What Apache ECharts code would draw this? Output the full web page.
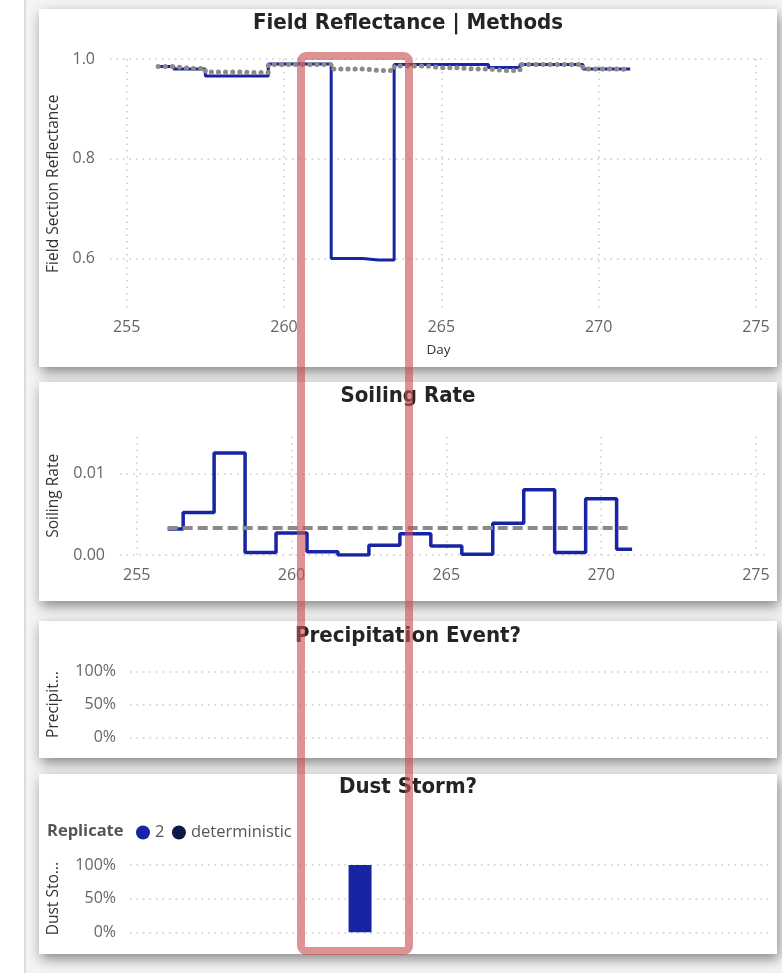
<!DOCTYPE html>
<html><head><meta charset="utf-8">
<script src="https://cdn.jsdelivr.net/npm/echarts@6/dist/echarts.min.js"></script>
<style>html,body{margin:0;padding:0;background:#fff}#c{width:782px;height:973px}</style>
</head><body><div id="c"></div><script>
// ---- data ----
const days = [256,257,258,259,260,261,262,263,264,265,266,267,268,269,270,271];
const reflRep2 = [0.985,0.980,0.966,0.966,0.990,0.990,0.600,0.597,0.989,0.989,0.989,0.983,0.989,0.989,0.980,0.980];
const reflDet  = [0.985,0.981,0.974,0.973,0.989,0.989,0.980,0.977,0.986,0.9825,0.980,0.977,0.989,0.989,0.980,0.979];
const soilRep2 = [0.0032,0.0052,0.0125,0.0003,0.0027,0.0004,0.0000,0.0012,0.0026,0.0011,0.0001,0.0039,0.0080,0.0003,0.0069,0.0007];
const soilDet  = [0.0033,0.0033,0.0033,0.0033,0.0033,0.0033,0.0033,0.0033,0.0033,0.0033,0.0033,0.0033,0.0033,0.0033,0.0033,0.0033];
const precipRep2 = [0,0,0,0,0,0,0,0,0,0,0,0,0,0,0,0];
const dustRep2 = [0,0,0,0,0,0,1,0,0,0,0,0,0,0,0,0];
const dustDet  = [0,0,0,0,0,0,0,0,0,0,0,0,0,0,0,0];
const xTicks = [255,260,265,270,275];
const legendNames = ['2','deterministic'];

// ---- styles ----
const LBL = "'Segoe UI','Open Sans','Noto Sans',sans-serif";
const TTL = "'DIN','Liberation Sans Narrow','DejaVu Sans Condensed','Roboto',sans-serif";
const BLUE = '#1724a3';
const GRAY = '#8a8a8a';
const NAVY = '#0c1b46';
const gridLine = {show:true, lineStyle:{color:'#c8c8c8', type:[1.5,5], width:1.5}};

function pairs(arr){ return days.map((d,i)=>[d, arr[i]]); }
function isMult(v, step){ return Math.abs(v/step - Math.round(v/step)) < 1e-6; }
function xFmt(v){ return (isMult(v,5) && xTicks.indexOf(Math.round(v))>=0) ? String(Math.round(v)) : ''; }

function xAxisDef(gi, min, max, show, margin, extra){
  return Object.assign({
    type:'value', gridIndex:gi, min:min, max:max, minInterval:5, maxInterval:5,
    show: show,
    axisLine:{show:false}, axisTick:{show:false},
    axisLabel:{show:show, color:'#666', fontSize:16, fontFamily:LBL, margin:margin, formatter:xFmt},
    splitLine:Object.assign({}, gridLine, {show:show, showMinLine:false, showMaxLine:false})
  }, extra||{});
}
function yNameStyle(){ return {color:'#333', fontSize:15.5, fontFamily:LBL}; }

const chart = echarts.init(document.getElementById('c'), null, {renderer:'canvas'});

const panels = [[39,9,738,358],[39,382,738,219],[39,621,738,137],[39,774,738,180]];
const graphic = [
  {type:'rect', shape:{x:25,y:0,width:757,height:973}, style:{fill:'#f4f4f4'}, z:-20},
  {type:'line', shape:{x1:25,y1:0,x2:25,y2:973}, style:{stroke:'#dcdcdc', lineWidth:2}, z:-19}
];
panels.forEach(p=>graphic.push({type:'rect', shape:{x:p[0],y:p[1],width:p[2],height:p[3]},
  style:{fill:'#fff', shadowColor:'rgba(0,0,0,0.45)', shadowBlur:12, shadowOffsetY:5, shadowOffsetX:2}, z:-10}));
[['Field Reflectance | Methods',24],['Soiling Rate',397],['Precipitation Event?',637],['Dust Storm?',788]].forEach(t=>
  graphic.push({type:'text', x:408, y:t[1], scaleX:1.05, style:{text:t[0], fill:'#252423', font:'bold 21px '+TTL, textAlign:'center', textVerticalAlign:'middle'}, z:5}));
graphic.push({type:'text', x:47, y:831, style:{text:'Replicate', fill:'#555', font:'bold 16.5px '+LBL, textAlign:'left', textVerticalAlign:'middle'}, z:5});
graphic.push({type:'rect', shape:{x:301,y:56,width:108,height:895,r:5}, style:{fill:'none', stroke:'rgba(200,80,85,0.62)', lineWidth:8}, z:100});

const option = {
  backgroundColor:'#fff',
  animation:false,
  graphic: graphic,
  legend:{data:legendNames, icon:'circle', left:136, top:824, padding:0, itemWidth:14, itemHeight:14, itemGap:7.5,
    selectedMode:false, textStyle:{fontSize:16.5, color:'#555', fontFamily:LBL}},
  grid:[
    {left:110, right:15, top:59, height:249.5},
    {left:120, right:14, top:436.7, height:118.3},
    {left:130, right:14, top:671.7, height:65.6},
    {left:130, right:14, top:865, height:67.3}
  ],
  xAxis:[
    xAxisDef(0, 254.47, 275.35, true, 11, {name:'Day', nameLocation:'middle', nameGap:35,
      nameTextStyle:{color:'#333', fontSize:13.5, fontFamily:LBL}}),
    xAxisDef(1, 254.46, 275.39, true, 12),
    xAxisDef(2, 254.5, 275.3, false, 10),
    xAxisDef(3, 254.5, 275.3, false, 10)
  ],
  yAxis:[
    {type:'value', gridIndex:0, min:0.5, max:1.0, minInterval:0.2, maxInterval:0.2,
      axisLine:{show:false}, axisTick:{show:false},
      axisLabel:{color:'#666', fontSize:16, fontFamily:LBL, margin:15,
        formatter:v => (v>0.55 && isMult(v,0.2)) ? v.toFixed(1) : ''},
      splitLine:Object.assign({}, gridLine, {showMinLine:false, showMaxLine:true}),
      name:'Field Section Reflectance', nameLocation:'middle', nameGap:48, nameTextStyle:yNameStyle()},
    {type:'value', gridIndex:1, min:0, max:0.0145, minInterval:0.01, maxInterval:0.01,
      axisLine:{show:false}, axisTick:{show:false},
      axisLabel:{color:'#666', fontSize:16, fontFamily:LBL, margin:15,
        formatter:v => isMult(v,0.01) ? v.toFixed(2) : ''},
      splitLine:Object.assign({}, gridLine, {showMinLine:true, showMaxLine:false}),
      name:'Soiling Rate', nameLocation:'middle', nameGap:58, nameTextStyle:yNameStyle()},
    {type:'value', gridIndex:2, min:0, max:1, interval:0.5,
      axisLine:{show:false}, axisTick:{show:false},
      axisLabel:{color:'#666', fontSize:16, fontFamily:LBL, margin:14, formatter:v => Math.round(v*100)+'%'},
      splitLine:gridLine,
      name:'Precipit...', nameLocation:'middle', nameGap:68, nameTextStyle:yNameStyle()},
    {type:'value', gridIndex:3, min:0, max:1, interval:0.5,
      axisLine:{show:false}, axisTick:{show:false},
      axisLabel:{color:'#666', fontSize:16, fontFamily:LBL, margin:14, formatter:v => Math.round(v*100)+'%'},
      splitLine:gridLine,
      name:'Dust Sto...', nameLocation:'middle', nameGap:68, nameTextStyle:yNameStyle()}
  ],
  series:[
    {name:'Reflectance 2', type:'line', xAxisIndex:0, yAxisIndex:0, step:'middle', data:pairs(reflRep2),
      showSymbol:false, lineStyle:{color:BLUE, width:3}, itemStyle:{color:BLUE}, z:3},
    {name:'Reflectance deterministic', type:'line', xAxisIndex:0, yAxisIndex:0, step:'middle', data:pairs(reflDet),
      showSymbol:false, lineStyle:{color:GRAY, width:5, type:[0.1,7], cap:'round'}, itemStyle:{color:GRAY}, z:4},
    {name:'Soiling 2', type:'line', xAxisIndex:1, yAxisIndex:1, step:'middle', data:pairs(soilRep2),
      showSymbol:false, lineStyle:{color:BLUE, width:3.5}, itemStyle:{color:BLUE}, z:3},
    {name:'Soiling deterministic', type:'line', xAxisIndex:1, yAxisIndex:1, step:'middle', data:pairs(soilDet),
      showSymbol:false, lineStyle:{color:GRAY, width:4, type:[10,5]}, itemStyle:{color:GRAY}, z:4},
    {name:'Precipitation 2', type:'bar', xAxisIndex:2, yAxisIndex:2, data:pairs(precipRep2), barWidth:23,
      itemStyle:{color:BLUE}},
    {name:'2', type:'bar', xAxisIndex:3, yAxisIndex:3, data:pairs(dustRep2), barWidth:23, barGap:'-100%',
      itemStyle:{color:BLUE}},
    {name:'deterministic', type:'bar', xAxisIndex:3, yAxisIndex:3, data:pairs(dustDet), barWidth:23, barGap:'-100%',
      itemStyle:{color:NAVY}}
  ]
};
chart.setOption(option);
</script></body></html>
